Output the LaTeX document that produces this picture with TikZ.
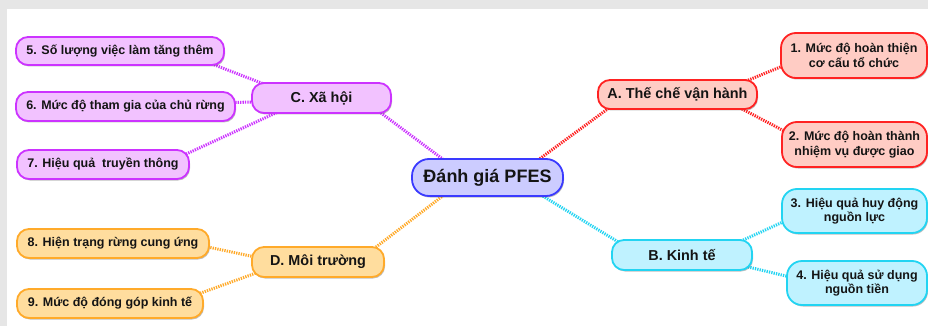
\documentclass[tikz,border=0pt]{standalone}
\usepackage{fontspec}
\setmainfont{Liberation Sans}
\usetikzlibrary{calc,shadows}
\pgfdeclarelayer{back}
\pgfdeclarelayer{lines}
\pgfsetlayers{back,lines,main}
\definecolor{txt}{HTML}{141414}
\definecolor{cenF}{HTML}{CCCCFF}\definecolor{cenD}{HTML}{3A3AFF}
\definecolor{magF}{HTML}{F2C2FF}\definecolor{magD}{HTML}{CC33FF}
\definecolor{redF}{HTML}{FFCCC4}\definecolor{redD}{HTML}{FF2222}
\definecolor{cyaF}{HTML}{BFF2FF}\definecolor{cyaD}{HTML}{22D4F2}
\definecolor{oraF}{HTML}{FFDD9E}\definecolor{oraD}{HTML}{FFAA2A}
\definecolor{bgray}{HTML}{E6E6E6}
\tikzset{
  box/.style={draw, line width=1.8pt, rounded corners=12pt, inner sep=0pt,
    text=txt, align=center, font=\bfseries,
    drop shadow={shadow xshift=1pt, shadow yshift=-1.5pt, opacity=0.25, fill=black}},
  leaf/.style={box, font=\fontsize{12.5}{14.5}\selectfont\bfseries},
  mid/.style={box, font=\fontsize{14.4}{16}\selectfont\bfseries},
  mag/.style={fill=magF, draw=magD},
  red/.style={fill=redF, draw=redD},
  cya/.style={fill=cyaF, draw=cyaD},
  ora/.style={fill=oraF, draw=oraD},
  link/.style={line width=3pt, dash pattern=on 1.3pt off 1.1pt},
}
\begin{document}
\begin{tikzpicture}[x=1pt,y=-1pt]
\useasboundingbox (0,0) rectangle (928,326);
\begin{pgfonlayer}{back}
\fill[bgray] (0,0) rectangle (928,326);
\fill[white] (7,9) rectangle (928,326);
\end{pgfonlayer}
% center
\node[box, fill=cenF, draw=cenD, rounded corners=17pt, minimum width=151pt, minimum height=37pt,
  font=\fontsize{18}{20}\selectfont\bfseries] (cen) at (487.5,177.5) {Đánh giá PFES};
% mid nodes
\node[mid, mag, minimum width=139pt, minimum height=30pt] (C) at (321.5,98) {C. Xã hội};
\node[mid, red, minimum width=159pt, minimum height=29pt] (A) at (677.5,94.5) {A. Thế chế vận hành};
\node[mid, cya, minimum width=140pt, minimum height=30pt] (B) at (682,255) {B. Kinh tế};
\node[mid, ora, minimum width=132pt, minimum height=30pt] (D) at (318,262) {D. Môi trường};
% leaves right
\node[leaf, red, rounded corners=15pt, minimum width=146pt, minimum height=45pt] (n1) at (854,55.5) {1. Mức độ hoàn thiện\\cơ cấu tổ chức};
\node[leaf, red, rounded corners=15pt, minimum width=145pt, minimum height=45pt] (n2) at (854.5,144.5) {2. Mức độ hoàn thành\\nhiệm vụ được giao};
\node[leaf, cya, rounded corners=15pt, minimum width=145pt, minimum height=44pt] (n3) at (854.5,211) {3. Hiệu quả huy động\\nguồn lực};
\node[leaf, cya, rounded corners=15pt, minimum width=140pt, minimum height=44pt] (n4) at (857,283) {4. Hiệu quả sử dụng\\nguồn tiền};
% leaves left
\node[leaf, mag, minimum width=208pt, minimum height=28pt] (n5) at (120,51) {5. Số lượng việc làm tăng thêm};
\node[leaf, mag, minimum width=219pt, minimum height=29pt] (n6) at (125.5,106.5) {6. Mức độ tham gia của chủ rừng};
\node[leaf, mag, minimum width=172pt, minimum height=29pt] (n7) at (103,164.5) {7. Hiệu quả\ \ truyền thông};
\node[leaf, ora, minimum width=192pt, minimum height=29pt] (n8) at (113,243.5) {8. Hiện trạng rừng cung ứng};
\node[leaf, ora, minimum width=186pt, minimum height=29pt] (n9) at (110,303.5) {9. Mức độ đóng góp kinh tế};
% connectors
\begin{pgfonlayer}{lines}
\draw[link, magD] ($(C.south east)+(-11,-1)$) -- ($(cen.north west)+(33,2)$);
\draw[link, redD] ($(cen.north east)+(-26,2)$) -- ($(A.south west)+(12,-2)$);
\draw[link, oraD] ($(D.north east)+(-9,1)$) -- ($(cen.south west)+(33,-2)$);
\draw[link, cyaD] ($(cen.south east)+(-23,-2)$) -- ($(B.north west)+(9,4)$);
\draw[link, magD] ($(n5.south east)+(-13,-2)$) -- ($(C.north west)+(13,2)$);
\draw[link, magD] ($(n6.east)+(-3,-4)$) -- ($(C.west)+(3,4)$);
\draw[link, magD] ($(n7.north east)+(-6,6)$) -- ($(C.south west)+(27,-2)$);
\draw[link, oraD] ($(n8.east)+(-2,3.5)$) -- ($(D.west)+(4,-5)$);
\draw[link, oraD] ($(n9.north east)+(-6,6)$) -- ($(D.south west)+(8,-6)$);
\draw[link, redD] ($(A.north east)+(-12,2)$) -- ($(n1.west)+(4,10)$);
\draw[link, redD] ($(A.south east)+(-16,-1)$) -- ($(n2.west)+(4,-13)$);
\draw[link, cyaD] ($(B.north east)+(-12,2)$) -- ($(n3.west)+(4,10)$);
\draw[link, cyaD] ($(B.south east)+(-5,-4)$) -- ($(n4.west)+(4,-6)$);
\end{pgfonlayer}
\end{tikzpicture}
\end{document}
